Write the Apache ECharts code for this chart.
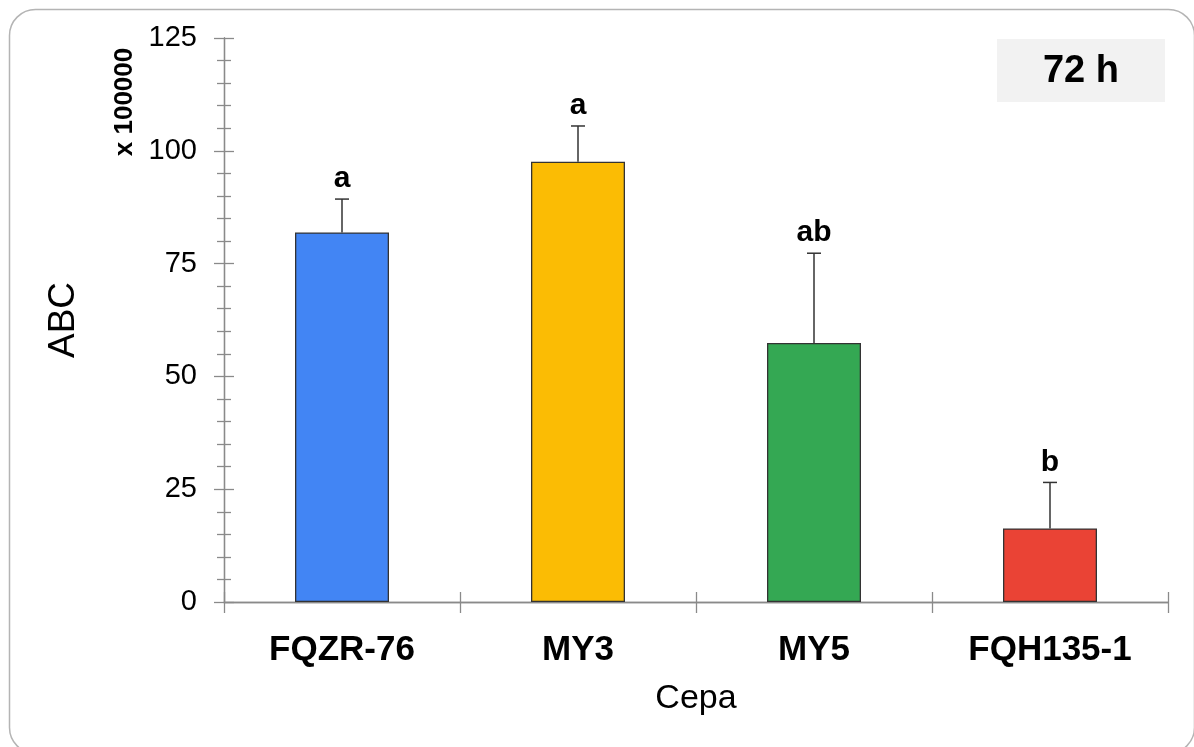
<!DOCTYPE html>
<html>
<head>
<meta charset="utf-8">
<script src="https://cdn.jsdelivr.net/npm/echarts@6/dist/echarts.min.js"></script>
<style>
  html, body { margin: 0; padding: 0; background: #fff; }
  #chart { width: 1194px; height: 747px; }
</style>
</head>
<body>
<div id="chart"></div>
<script>
// Strains (cepas) and mean ABC values (x 100000) at 72 h
const categories = ['FQZR-76', 'MY3', 'MY5', 'FQH135-1'];
const means = [81.9, 97.6, 57.4, 16.3];
const errors = [7.4, 7.9, 19.9, 10.2];
const letters = ['a', 'a', 'ab', 'b'];
const barColors = ['#4285f4', '#fbbc04', '#34a853', '#ea4335'];
const yTicks = [0, 25, 50, 75, 100, 125];

const FONT = '"Liberation Sans", Arial, sans-serif';
const AXIS_GRAY = '#8a8a8a';

const chart = echarts.init(document.getElementById('chart'), null, { renderer: 'canvas' });

const yBase = {
  type: 'value',
  min: yTicks[0],
  max: yTicks[yTicks.length - 1],
  interval: yTicks[1] - yTicks[0],
  position: 'left',
  axisLine: { show: true, lineStyle: { color: AXIS_GRAY, width: 1.3 } },
  splitLine: { show: false },
  minorSplitLine: { show: false }
};

const xBase = {
  type: 'category',
  data: categories,
  position: 'bottom',
  axisLine: { show: true, lineStyle: { color: AXIS_GRAY, width: 1.3 } },
  splitLine: { show: false }
};

const option = {
  animation: false,
  backgroundColor: '#ffffff',
  grid: { left: 224, right: 26, top: 38, bottom: 145, containLabel: false },
  xAxis: [
    Object.assign({}, xBase, {
      axisTick: { show: true, inside: false, length: 11, lineStyle: { color: AXIS_GRAY, width: 1.3 } },
      axisLabel: {
        margin: 31,
        fontFamily: FONT, fontSize: 35, fontWeight: 'bold', color: '#000'
      },
      name: 'Cepa',
      nameLocation: 'middle',
      nameGap: 80,
      nameTextStyle: { fontFamily: FONT, fontSize: 34, color: '#000' }
    }),
    Object.assign({}, xBase, {
      axisTick: { show: true, inside: true, length: 10, lineStyle: { color: AXIS_GRAY, width: 1.3 } },
      axisLabel: { show: false }
    })
  ],
  yAxis: [
    Object.assign({}, yBase, {
      axisTick: { show: true, inside: false, length: 10, lineStyle: { color: AXIS_GRAY, width: 1.3 } },
      minorTick: { show: true, splitNumber: 5, length: 7, lineStyle: { color: AXIS_GRAY, width: 1.3 } },
      axisLabel: { margin: 27, fontFamily: FONT, fontSize: 29, color: '#000' },
      name: 'ABC',
      nameLocation: 'middle',
      nameRotate: 90,
      nameGap: 142,
      nameTextStyle: { fontFamily: FONT, fontSize: 37, color: '#000' }
    }),
    Object.assign({}, yBase, {
      axisTick: { show: true, inside: true, length: 10, lineStyle: { color: AXIS_GRAY, width: 1.3 } },
      minorTick: { show: true, splitNumber: 5, length: 7, lineStyle: { color: AXIS_GRAY, width: 1.3 } },
      axisLabel: { show: false }
    })
  ],
  series: [
    {
      type: 'bar',
      xAxisIndex: 0,
      yAxisIndex: 0,
      barWidth: 94,
      data: means.map((v, i) => ({
        value: v,
        itemStyle: { color: barColors[i], borderColor: '#333', borderWidth: 1.3 }
      })),
      z: 2
    },
    {
      // error bars (upper whisker with cap) and significance letters
      type: 'custom',
      xAxisIndex: 0,
      yAxisIndex: 0,
      data: means.map((m, i) => [i, m, m + errors[i]]),
      renderItem: function (params, api) {
        const i = api.value(0);
        const base = api.coord([i, api.value(1)]);
        const top = api.coord([i, api.value(2)]);
        const capHalf = 7;
        return {
          type: 'group',
          children: [
            {
              type: 'line',
              shape: { x1: base[0], y1: base[1], x2: top[0], y2: top[1] },
              style: { stroke: '#333', lineWidth: 1.5 }
            },
            {
              type: 'line',
              shape: { x1: top[0] - capHalf, y1: top[1], x2: top[0] + capHalf, y2: top[1] },
              style: { stroke: '#333', lineWidth: 1.5 }
            },
            {
              type: 'text',
              style: {
                text: letters[params.dataIndex],
                x: top[0],
                y: top[1] - 5,
                textAlign: 'center',
                textVerticalAlign: 'bottom',
                font: 'bold 30px ' + FONT,
                fill: '#000'
              }
            }
          ]
        };
      },
      z: 3
    }
  ],
  graphic: [
    {
      type: 'rect',
      left: 7, top: 7,
      shape: { width: 1185, height: 744, r: 26 },
      style: { fill: 'none', stroke: '#b4b4b4', lineWidth: 1.5 },
      silent: true
    },
    {
      type: 'rect',
      left: 997, top: 39,
      shape: { width: 168, height: 63 },
      style: { fill: '#f2f2f2' },
      silent: true
    },
    {
      type: 'text',
      x: 1081, y: 72,
      style: {
        text: '72 h',
        font: 'bold 38px ' + FONT,
        fill: '#000',
        textAlign: 'center',
        textVerticalAlign: 'middle'
      }
    },
    {
      type: 'text',
      x: 125, y: 102,
      rotation: Math.PI / 2,
      style: {
        text: 'x 100000',
        font: 'bold 26px ' + FONT,
        fill: '#000',
        textAlign: 'center',
        textVerticalAlign: 'middle'
      }
    }
  ]
};

chart.setOption(option);
</script>
</body>
</html>
